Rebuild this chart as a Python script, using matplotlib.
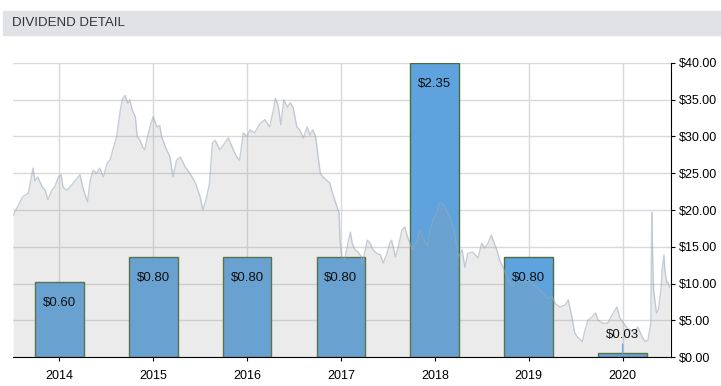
import numpy as np
import matplotlib.pyplot as plt
from matplotlib.patches import Rectangle

plt.rcParams['font.family'] = ['Liberation Sans', 'DejaVu Sans']

years = [2014, 2015, 2016, 2017, 2018, 2019, 2020]
dividends = [0.60, 0.80, 0.80, 0.80, 2.35, 0.80, 0.03]
div_labels = ["$%.2f" % d for d in dividends]

# share price, decimal year / dollars
price_t = [
    2013.51, 2013.55, 2013.61, 2013.67, 2013.72, 2013.74, 2013.77, 2013.82, 2013.85, 2013.88,
    2013.92, 2013.95, 2013.99, 2014.02, 2014.04, 2014.08, 2014.11, 2014.15, 2014.19, 2014.22,
    2014.25, 2014.30, 2014.33, 2014.36, 2014.40, 2014.43, 2014.47, 2014.51, 2014.54, 2014.57,
    2014.61, 2014.65, 2014.67, 2014.70, 2014.73, 2014.75, 2014.78, 2014.81, 2014.83, 2014.86,
    2014.89, 2014.91, 2014.94, 2014.97, 2015.00, 2015.04, 2015.07, 2015.09, 2015.13, 2015.18,
    2015.21, 2015.25, 2015.29, 2015.34, 2015.39, 2015.45, 2015.50, 2015.53, 2015.57, 2015.60,
    2015.63, 2015.66, 2015.71, 2015.76, 2015.80, 2015.84, 2015.89, 2015.92, 2015.96, 2016.00,
    2016.03, 2016.08, 2016.14, 2016.19, 2016.24, 2016.28, 2016.30, 2016.33, 2016.36, 2016.39,
    2016.43, 2016.46, 2016.49, 2016.53, 2016.56, 2016.60, 2016.64, 2016.67, 2016.70, 2016.73,
    2016.78, 2016.81, 2016.85, 2016.88, 2016.91, 2016.96, 2016.98, 2016.99, 2017.01, 2017.04,
    2017.08, 2017.10, 2017.12, 2017.15, 2017.18, 2017.22, 2017.23, 2017.28, 2017.31, 2017.34,
    2017.38, 2017.42, 2017.45, 2017.49, 2017.52, 2017.54, 2017.58, 2017.61, 2017.65, 2017.68,
    2017.71, 2017.76, 2017.81, 2017.84, 2017.87, 2017.92, 2017.95, 2017.98, 2018.03, 2018.05,
    2018.09, 2018.11, 2018.16, 2018.21, 2018.25, 2018.29, 2018.32, 2018.35, 2018.40, 2018.43,
    2018.46, 2018.50, 2018.53, 2018.57, 2018.60, 2018.62, 2018.66, 2018.69, 2018.73, 2018.77,
    2018.80, 2018.83, 2018.87, 2018.91, 2018.94, 2018.98, 2019.01, 2019.05, 2019.09, 2019.12,
    2019.15, 2019.20, 2019.25, 2019.28, 2019.33, 2019.39, 2019.42, 2019.46, 2019.49, 2019.52,
    2019.57, 2019.60, 2019.63, 2019.67, 2019.71, 2019.74, 2019.79, 2019.84, 2019.90, 2019.94,
    2019.97, 2020.00, 2020.05, 2020.08, 2020.13, 2020.16, 2020.21, 2020.24, 2020.27, 2020.30,
    2020.31, 2020.32, 2020.33, 2020.36, 2020.38, 2020.41, 2020.42, 2020.44, 2020.45, 2020.47,
    2020.48, 2020.50,
]
price = [
    19.3, 20.3, 21.8, 22.3, 25.7, 24.0, 24.5, 23.1, 22.7, 21.4,
    22.7, 23.1, 24.5, 24.8, 23.1, 22.7, 23.1, 23.7, 24.3, 24.8,
    23.1, 21.1, 24.1, 25.4, 25.0, 25.7, 24.5, 26.4, 26.8, 28.2,
    29.9, 33.6, 35.0, 35.6, 34.5, 35.0, 33.5, 32.7, 30.0, 29.5,
    28.5, 28.2, 30.0, 31.5, 32.7, 31.3, 31.5, 30.0, 28.6, 27.2,
    24.5, 26.8, 27.2, 25.9, 25.0, 23.7, 21.8, 20.0, 21.8, 23.7,
    29.1, 29.5, 28.2, 29.1, 29.8, 28.6, 27.2, 26.8, 30.5, 30.0,
    30.9, 30.5, 31.8, 32.3, 31.3, 33.6, 35.2, 34.3, 31.6, 35.0,
    34.0, 34.6, 34.0, 31.3, 30.9, 29.8, 31.3, 30.2, 30.9, 30.0,
    25.0, 24.5, 24.0, 23.7, 22.3, 20.4, 19.6, 15.9, 13.6, 13.2,
    15.9, 17.0, 15.5, 14.6, 14.3, 13.6, 12.8, 15.9, 15.5, 14.6,
    14.1, 13.9, 12.8, 14.1, 15.5, 15.9, 13.6, 15.0, 17.3, 17.7,
    16.3, 14.6, 15.9, 17.3, 16.3, 15.0, 17.3, 18.6, 20.0, 21.0,
    20.8, 20.3, 19.0, 16.9, 13.6, 14.6, 12.2, 14.1, 14.3, 13.9,
    13.5, 15.5, 14.8, 15.6, 16.6, 15.9, 14.6, 13.2, 12.1, 10.9,
    10.1, 9.5, 10.5, 10.2, 10.5, 10.1, 10.5, 9.8, 9.5, 9.1,
    8.7, 8.0, 8.2, 7.3, 6.8, 7.1, 7.8, 5.4, 3.3, 2.7,
    2.1, 3.7, 5.0, 5.4, 6.0, 5.0, 4.6, 4.6, 6.0, 6.8,
    5.3, 4.8, 3.9, 3.7, 3.3, 4.1, 2.7, 2.1, 2.3, 4.6,
    19.7, 13.6, 9.1, 6.0, 6.4, 9.5, 11.8, 13.9, 11.8, 10.1,
    10.2, 9.5,
]

fig = plt.figure(figsize=(7.21, 3.86), dpi=100)

# header bar
fig.patches.append(Rectangle((3 / 721, 0.9101), 718 / 721, 0.0614,
                             transform=fig.transFigure, color="#e0e2e5", zorder=0))
fig.text(12 / 721, 0.9404, "DIVIDEND DETAIL", fontsize=9.5, color="#333333", va="center")

ax = fig.add_axes([13 / 721, 0.0751, 658 / 721, 0.7617])
ax2 = ax.twinx()

# dividends on the bottom axes
top = max(dividends)
ax.bar(years, dividends, width=0.52, color="#5ea3de", edgecolor="#4b6b3b", linewidth=1, zorder=2)
ax.set_ylim(0, top)
ax.set_yticks(np.linspace(0, top, 9))
ax.set_xlim(2013.507, 2020.515)
ax.set_xticks(years)
ax.set_xticklabels([str(y) for y in years])
ax.set_axisbelow(True)
ax.grid(True, color="#d9d9d9", linewidth=1)
ax.tick_params(axis="y", left=False, labelleft=False)
ax.tick_params(axis="x", length=3, pad=6, labelsize=9, colors="black")
for s in ["left", "top", "right", "bottom"]:
    ax.spines[s].set_visible(False)

# price area on top
ax2.fill_between(price_t, price, color="#999999", alpha=0.19, linewidth=0)
ax2.plot(price_t, price, color="#9aa8b8", alpha=0.55, linewidth=1)
ax2.set_ylim(0, 40)
ax2.set_yticks(np.arange(0, 41, 5))
ax2.set_yticklabels(["$%.2f" % v for v in np.arange(0, 41, 5)])
ax2.tick_params(axis="y", length=3, pad=2.5, labelsize=9, colors="black")
for s in ["left", "top"]:
    ax2.spines[s].set_visible(False)
ax2.spines["right"].set_color("black")
ax2.spines["bottom"].set_color("black")

for x, d, lab in zip(years, dividends, div_labels):
    if d / top > 0.1:
        ax2.annotate(lab, (x, d), xycoords=ax.transData, xytext=(0, -15),
                     textcoords="offset points", ha="center", va="center",
                     fontsize=9.5, color="#111111", zorder=5)
    else:
        ax2.annotate(lab, (x, d), xycoords=ax.transData, xytext=(0, 13),
                     textcoords="offset points", ha="center", va="center",
                     fontsize=9.5, color="#111111", zorder=5,
                     arrowprops=dict(arrowstyle="-", color="#6fa8dc", lw=1,
                                     shrinkA=7, shrinkB=0))

fig.savefig("out.png", dpi=100)
